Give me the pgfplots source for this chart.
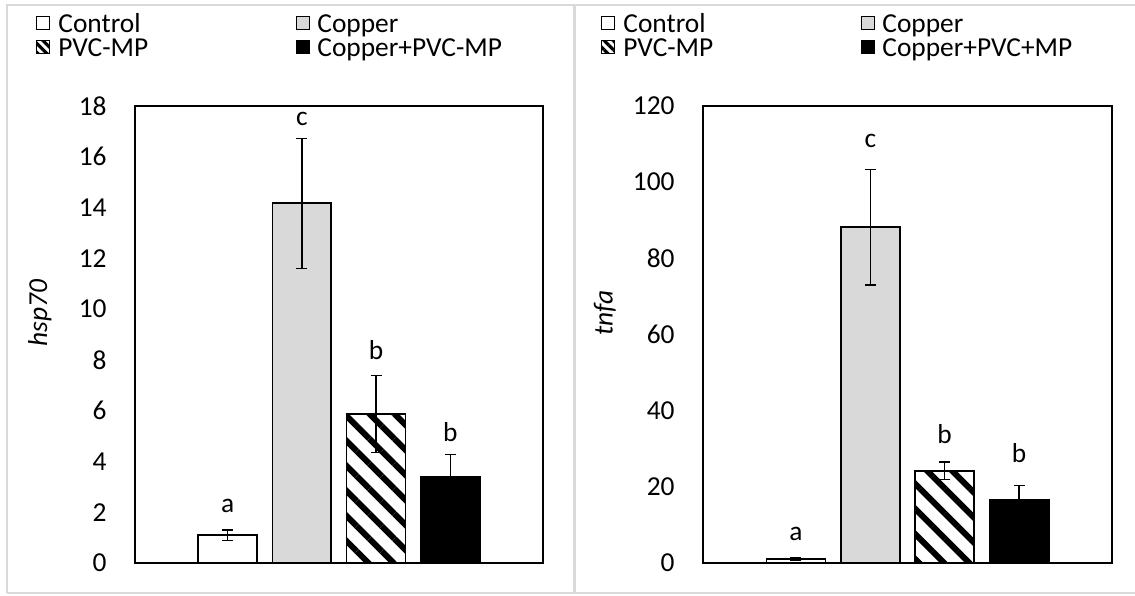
\documentclass[border=0pt]{standalone}
\usepackage{fontspec}
\setmainfont{Carlito}
\usepackage{pgfplots}
\pgfplotsset{compat=1.18}
\usetikzlibrary{patterns.meta}
\definecolor{cuGray}{HTML}{D9D9D9}
\definecolor{frameGray}{HTML}{D9D9D9}
\newcommand{\fs}{\fontsize{13.7}{16}\selectfont}
\pgfplotsset{
 panel/.style={
  scale only axis, height=228.5pt,
  anchor=south west,
  xmin=-1.25, xmax=4.25, ymin=0,
  xtick=\empty,
  axis line style={line width=0.8pt, black},
  ytick style={draw=none},
  font=\fs,
  /pgf/number format/assume math mode=true,
  yticklabel style={inner sep=0pt, xshift=-14pt, anchor=east, font=\fs},
  ylabel style={anchor=center, font=\fs},
 },
 barstyle/.style={ybar, bar width=0.795, bar shift=0pt, draw=black, line width=0.9pt,
   error bars/y dir=both, error bars/y explicit,
   error bars/error bar style={line width=0.6pt, black},
   error bars/error mark options={rotate=90, line width=0.6pt, black, mark size=2.75pt}},
 letters/.style={forget plot, draw=none, mark=none, nodes near coords, point meta=explicit symbolic,
   nodes near coords style={anchor=base, inner sep=0pt, font=\fs, text=black}},
}
\tikzset{
 lsq/.style={draw=black, line width=0.5pt},
 ltx/.style={anchor=base west, inner sep=0pt, font=\fs},
}
\begin{document}
\begin{tikzpicture}[x=0.5pt, y=0.5pt]
\path[use as bounding box] (0,0) rectangle (1135,595);
\coordinate (LA) at (135,32);
\coordinate (RA) at (703,32);
% left panel
\begin{axis}[panel, at={(LA)}, width=204pt, ymax=18, ytick={0,2,...,18},
  ylabel={\textit{hsp70}},
  ylabel style={at={(axis description cs:-0.233,0.547)}}]
\addplot[barstyle, fill=white] coordinates {(0,1.1) +- (0,0.2)};
\addplot[barstyle, fill=cuGray] coordinates {(1,14.17) +- (0,2.56)};
\addplot[barstyle, fill=white, pattern={Lines[angle=-45,distance=8.85pt,line width=3pt]}] coordinates {(2,5.87) +- (0,1.52)};
\addplot[barstyle, fill=black] coordinates {(3,3.39) +- (0,0.87)};
\addplot[letters] coordinates {(0,1.97) [a] (1,17.25) [c] (2,8.0) [b] (3,4.77) [b]};
\end{axis}
% right panel
\begin{axis}[panel, at={(RA)}, width=204.5pt, ymax=120, ytick={0,20,...,120},
  ylabel={\textit{tnfa}},
  ylabel style={at={(axis description cs:-0.24,0.547)}}]
\addplot[barstyle, fill=white] coordinates {(0,1.1) +- (0,0.3)};
\addplot[barstyle, fill=cuGray] coordinates {(1,88.2) +- (0,15.2)};
\addplot[barstyle, fill=white, pattern={Lines[angle=-45,distance=8.85pt,line width=3pt]}] coordinates {(2,24.2) +- (0,2.3)};
\addplot[barstyle, fill=black] coordinates {(3,16.5) +- (0,3.8)};
\addplot[letters] coordinates {(0,6.0) [a] (1,109) [c] (2,31.5) [b] (3,26.5) [b]};
\end{axis}
% legends
\foreach \ox/\lastlab in {0/{Copper+PVC-MP}, 565/{Copper+PVC+MP}} {
  \begin{scope}[xshift=\ox*0.5pt]
  \draw[lsq, fill=white] (36,565) rectangle (49,578);
  \node[ltx] at (58,562) {Control};
  \draw[lsq, fill=cuGray] (296,565) rectangle (309,578);
  \node[ltx] at (317,562) {Copper};
  \draw[lsq, fill=white, pattern={Lines[angle=-45,distance=3.2pt,line width=1.6pt]}] (36,541) rectangle (49,554);
  \node[ltx] at (58,538) {PVC-MP};
  \draw[lsq, fill=black] (296,541) rectangle (309,554);
  \node[ltx] at (317,538) {\lastlab};
  \end{scope}
}
% frames
\draw[frameGray, line width=1pt] (7,2) -- (7,590) -- (1140,590);
\draw[frameGray, line width=1pt] (7,2) -- (1140,2);
\draw[frameGray, line width=1.5pt] (574,2) -- (574,590);
\end{tikzpicture}
\end{document}
